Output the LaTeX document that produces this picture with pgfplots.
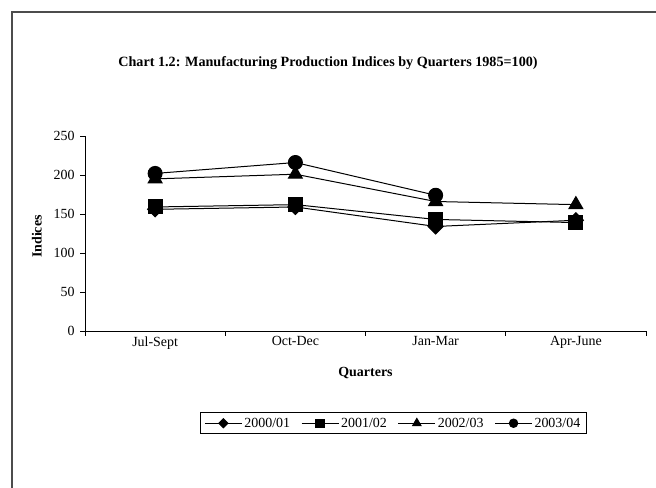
\documentclass[border=0pt]{standalone}
\usepackage{pgfplots}
\pgfplotsset{compat=1.18}
\usepackage{fontspec}
\setmainfont{Liberation Serif}
\begin{document}
\begin{tikzpicture}[x=1bp,y=1bp]
\useasboundingbox (0,0) rectangle (656,488);
\draw[line width=1.3bp, black!70] (12,-1) -- (12,476) -- (657,476);
\node[font=\bfseries\fontsize{14.2}{17}\selectfont] at (328,425) {Chart 1.2: Manufacturing Production Indices by Quarters 1985=100)};
\begin{axis}[
  at={(85bp,157bp)}, anchor=south west,
  width=561bp, height=195bp, scale only axis,
  xmin=-0.5, xmax=3.5, ymin=0, ymax=250,
  axis x line=bottom, axis y line=left,
  axis line style={-, line width=0.8bp},
  xtick={-0.5,0.5,1.5,2.5,3.5}, xticklabels={},
  extra x ticks={0,1,2,3},
  extra x tick labels={Jul-Sept,Oct-Dec,Jan-Mar,Apr-June},
  extra x tick style={major tick length=0pt, tick label style={yshift=-2bp}},
  ytick={0,50,100,150,200,250},
  tick align=outside, major tick length=5bp,
  tick style={black, line width=0.8bp},
  ticklabel style={font=\fontsize{14}{16}\selectfont},
  yticklabel style={xshift=-2bp},
  /pgf/number format/assume math mode=true,
  xlabel={Quarters}, ylabel={Indices},
  label style={font=\bfseries\fontsize{14}{16}\selectfont},
  xlabel style={at={(axis description cs:0.5,-0.215)}, anchor=center},
  ylabel style={at={(axis description cs:-0.086,0.484)}, anchor=center},
  clip=false,
  legend columns=4,
  legend style={at={(axis description cs:0.5496,-0.473)}, anchor=center,
    draw=black, line width=0.8bp, font=\fontsize{14}{16}\selectfont,
    inner xsep=4bp, inner ysep=3bp,
    /tikz/every even column/.append style={column sep=9bp}},
  legend image code/.code={\draw[mark repeat=2,mark phase=2,#1,every mark/.append style={scale=0.6}] plot coordinates {(0bp,0bp) (18.5bp,0bp) (37bp,0bp)};},
]
\addplot[black, line width=1bp, mark=square*, mark size=5.3bp, mark options={rotate=45, fill=black, draw=black}] coordinates {(0,156) (1,159) (2,134) (3,142)};
\addlegendentry{2000/01}
\addplot[black, line width=1bp, mark=square*, mark size=7bp, mark options={fill=black, draw=black}] coordinates {(0,159) (1,162) (2,143) (3,139)};
\addlegendentry{2001/02}
\addplot[black, line width=1bp, mark=triangle*, mark size=8bp, mark options={fill=black, draw=black}] coordinates {(0,195) (1,201) (2,166) (3,162)};
\addlegendentry{2002/03}
\addplot[black, line width=1bp, mark=*, mark size=7bp, mark options={fill=black, draw=black}] coordinates {(0,202) (1,216) (2,174)};
\addlegendentry{2003/04}
\end{axis}
\end{tikzpicture}
\end{document}
